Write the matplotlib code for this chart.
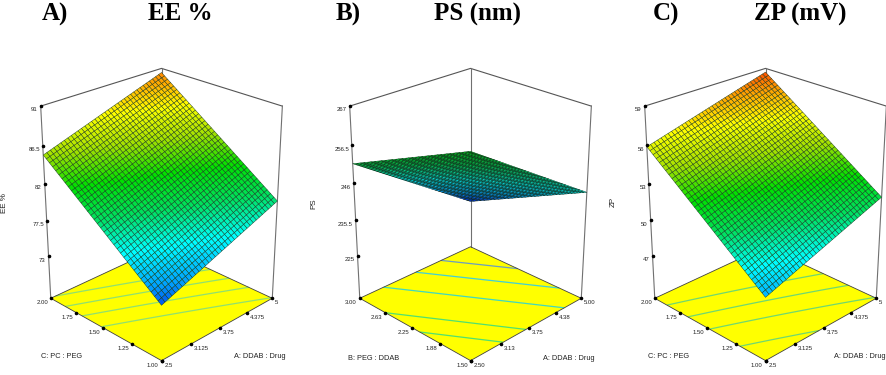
import numpy as np
import matplotlib
matplotlib.use('Agg')
import matplotlib.pyplot as plt
from matplotlib.colors import LinearSegmentedColormap
from mpl_toolkits.mplot3d import proj3d

W, H = 886, 375

# response at the corners: [[x0y0, x0y1], [x1y0, x1y1]]
ee_corners = [[74.2, 85.4], [79.9, 90.5]]
ps_corners = [[255.0, 251.5], [243.5, 242.5]]
zp_corners = [[48.4, 55.9], [51.9, 58.7]]
ps_shade = [[0.04, 0.42], [0.27, 0.47]]
# contour lines on the floor of B run flatter than the surface above it
ps_floor = [[255.5, 247.9], [243.5, 235.9]]

a_ticks = [2.5, 3.125, 3.75, 4.375, 5]
a_labels = ['2.5', '3.125', '3.75', '4.375', '5']
a_ticks_b = [2.5, 3.13, 3.75, 4.38, 5.0]
a_labels_b = ['2.50', '3.13', '3.75', '4.38', '5.00']
c_ticks = [1.0, 1.25, 1.5, 1.75, 2.0]
c_labels = ['1.00', '1.25', '1.50', '1.75', '2.00']
b_ticks = [1.5, 1.88, 2.25, 2.63, 3.0]
b_labels = ['1.50', '1.88', '2.25', '2.63', '3.00']

ee_ticks = [73, 77.5, 82, 86.5, 91]
ee_labels = ['73', '77.5', '82', '86.5', '91']
ps_ticks = [225, 235.5, 246, 256.5, 267]
ps_labels = ['225', '235.5', '246', '256.5', '267']
zp_ticks = [47, 50, 53, 56, 59]
zp_labels = ['47', '50', '53', '56', '59']

ee_levels = [80, 82, 83.8, 85.6]
ps_levels = [239.3, 242.1, 245.5, 249.8, 252.2]
zp_levels = [50, 52, 53.5, 55]

cmap = LinearSegmentedColormap.from_list(
    'dx', ['#0000e0', '#00a0ff', '#00ffff', '#00e060', '#00e000', '#a0e000', '#ffff00', '#ff9000', '#ff0000'])

N = 37
serif = 'Liberation Serif'
sans = 'Liberation Sans'

fig = plt.figure(figsize=(W / 100, H / 100), dpi=100)


def px(x, y):
    return x / W, 1 - y / H


def panel(pos, corners, xt, xl, yt, yl, zt, zl, zlim, levels, line_cols, vlim=None, shade=None, floor=None, edge='#10301a', lw=0.3):
    ax = fig.add_axes(pos, projection='3d', computed_zorder=False)
    ax.set_axis_off()
    ax.patch.set_alpha(0)
    ax.view_init(elev=25.5, azim=-135)
    ax.set_proj_type('persp', focal_length=0.6)
    ax.set_box_aspect((1, 1, 1.3), zoom=0.94)
    x0, x1, y0, y1 = xt[0], xt[-1], yt[0], yt[-1]
    ax.set_xlim(x0, x1)
    ax.set_ylim(y0, y1)
    ax.set_zlim(*zlim)
    z0, z1 = zlim

    # fitted plane: mesh filled in from the four read corners
    u = np.linspace(0, 1, N)
    uu, vv = np.meshgrid(u, u, indexing='ij')
    X = x0 + (x1 - x0) * uu
    Y = y0 + (y1 - y0) * vv
    blend = lambda k: k[0][0] * (1 - uu) * (1 - vv) + k[0][1] * (1 - uu) * vv + k[1][0] * uu * (1 - vv) + k[1][1] * uu * vv
    Z = blend(corners)
    if shade is None:
        col = (Z - vlim[0]) / (vlim[1] - vlim[0])
    else:
        col = blend(shade)
    Zf = Z if floor is None else blend(floor)

    # floor
    ax.plot_surface(np.array([[x0, x0], [x1, x1]]), np.array([[y0, y1], [y0, y1]]),
                    np.full((2, 2), z0), color='#ffff00', shade=False, zorder=1)
    ax.contour(X, Y, Zf, levels=levels, zdir='z', offset=z0, colors=line_cols, linewidths=0.9, zorder=2)

    # box
    grey = '#707070'
    ax.plot([x0, x1, x1], [y1, y1, y0], [z1, z1, z1], color='#555555', lw=0.8, zorder=3)
    for xv, yv in [(x0, y1), (x1, y0), (x1, y1)]:
        ax.plot([xv, xv], [yv, yv], [z0, z1], color=grey, lw=0.8, zorder=3)
    ax.plot([x0, x1, x1, x0, x0], [y0, y0, y1, y1, y0], [z0] * 5, color='#404040', lw=0.6, zorder=3)

    # surface
    ax.plot_surface(X, Y, Z, facecolors=cmap(col), shade=False, rstride=1, cstride=1,
                    edgecolor=edge, linewidth=lw, zorder=4)

    # ticks and labels
    ax.scatter(xt, [y0] * 5, [z0] * 5, color='k', s=2.5, depthshade=False, zorder=5)
    ax.scatter([x0] * 5, yt, [z0] * 5, color='k', s=2.5, depthshade=False, zorder=5)
    ax.scatter([x0] * 5, [y1] * 5, zt, color='k', s=2.5, depthshade=False, zorder=5)
    M = ax.get_proj()

    def tick_text(x, y, z, s, off, ha):
        sx, sy, _ = proj3d.proj_transform(x, y, z, M)
        ax.annotate(s, xy=(sx, sy), xytext=off, textcoords='offset points', fontsize=4.3, family=sans,
                    color='#222222', ha=ha, va='top', zorder=6, annotation_clip=False)

    for t, s in zip(xt, xl):
        tick_text(t, y0, z0, s, (2, -1.5), 'left')
    for t, s in zip(yt, yl):
        tick_text(x0, t, z0, s, (-2, -1.5), 'right')
    for t, s in zip(zt, zl):
        tick_text(x0, y1, t, s, (-2, -1), 'right')
    return ax


panel([-5 / W, -0.062, 0.366, 1.0], ee_corners, a_ticks, a_labels, c_ticks, c_labels, ee_ticks, ee_labels,
      (67.5, 91), ee_levels, ['#90e070'], vlim=(72.7, 92.5))
panel([304 / W, -0.062, 0.366, 1.0], ps_corners, a_ticks_b, a_labels_b, b_ticks, b_labels, ps_ticks, ps_labels,
      (212, 267), ps_levels, ['#6a9fc0', '#40d0d8', '#40d8c0', '#50e070', '#50e070'], shade=ps_shade, floor=ps_floor,
      edge='#08200f', lw=0.3)
panel([599 / W, -0.062, 0.366, 1.0], zp_corners, a_ticks, a_labels, c_ticks, c_labels, zp_ticks, zp_labels,
      (43.3, 59), zp_levels, ['#70d870'], vlim=(46.3, 59.5))

# panel letters and titles
for s, x, y in [('A)', 55, 14), ('EE %', 180, 14), ('B)', 348, 14), ('PS (nm)', 478, 14),
                ('C)', 666, 14), ('ZP (mV)', 800, 14)]:
    fx, fy = px(x, y)
    fig.text(fx, fy, s, fontsize=18, fontweight='bold', family=serif, ha='center', va='center')

# axis labels
for s, x, y in [('C: PC : PEG', 62, 356), ('A: DDAB : Drug', 260, 357), ('B: PEG : DDAB', 374, 358),
                ('A: DDAB : Drug', 569, 358), ('C: PC : PEG', 669, 357), ('A: DDAB : Drug', 860, 357)]:
    fx, fy = px(x, y)
    fig.text(fx, fy, s, fontsize=5.3, family=sans, color='#222222', ha='center', va='center')
for s, x, y in [('EE %', 5, 203), ('PS', 314, 204), ('ZP', 613, 202)]:
    fx, fy = px(x, y)
    fig.text(fx, fy, s, fontsize=5.8, family=sans, color='#222222', rotation=90, ha='center', va='center')

fig.savefig('out.png', dpi=100)
